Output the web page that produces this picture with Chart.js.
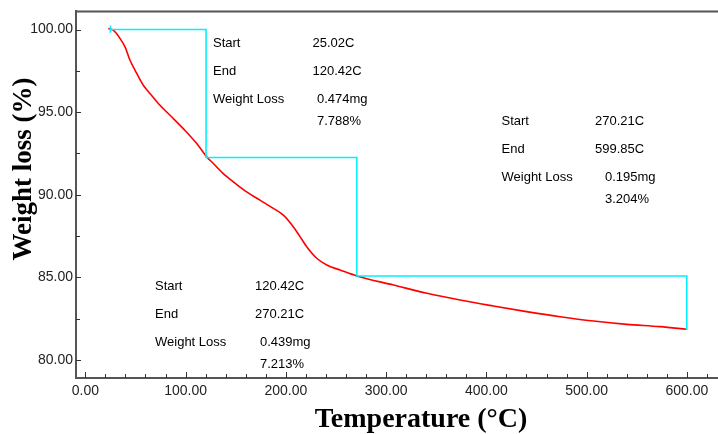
<!DOCTYPE html>
<html>
<head>
<meta charset="utf-8">
<script src="https://cdn.jsdelivr.net/npm/chart.js@4/dist/chart.umd.min.js"></script>
<style>
  html, body { margin: 0; padding: 0; background: #fff; }
  #wrap { width: 718px; height: 434px; }
</style>
</head>
<body>
<div id="wrap"><canvas id="tga" width="718" height="434"></canvas></div>
<script>
// TGA curve (temperature in C, weight in %)
const temps = [22.9, 27.9, 34.6, 39.6, 44.6, 51.3, 57.8, 64.5, 72.8, 84.5, 97.7, 111.1, 121.1, 127.7, 137.6, 147.6, 160.9, 174.2, 187.5, 197.5, 207.4, 214.1, 220.8, 230.8, 240.8, 254.0, 270.7, 307.4, 340.7, 373.8, 406.9, 440, 473.6, 506.8, 540, 573.4, 599.8];
const weights = [100.06, 99.96, 99.46, 98.95, 98.14, 97.34, 96.63, 96.13, 95.52, 94.81, 94.0, 93.1, 92.29, 91.89, 91.28, 90.78, 90.17, 89.67, 89.17, 88.76, 88.06, 87.46, 86.85, 86.15, 85.74, 85.44, 85.08, 84.53, 84.03, 83.62, 83.26, 82.92, 82.61, 82.35, 82.15, 82.01, 81.85];

// step marker (cyan)
const stepTemps = [25.02, 25.02, 25.02, 120.42, 120.42, 270.8, 270.8, 599.85, 599.85];
const stepWeights = [99.8, 100.25, 100, 100, 92.25, 92.25, 85.08, 85.08, 81.81];

// axis ticks
const xMajor = [0, 100, 200, 300, 400, 500, 600];
const yMajor = [80, 85, 90, 95, 100];

// annotations
const rowNames = ['Start', 'End', 'Weight Loss'];
const stage1 = ['25.02C', '120.42C', '0.474mg', '7.788%'];
const stage2 = ['120.42C', '270.21C', '0.439mg', '7.213%'];
const stage3 = ['270.21C', '599.85C', '0.195mg', '3.204%'];

const tickFont = '"Liberation Sans", Arial, sans-serif';

function toPoints(xs, ys) {
  return xs.map((x, i) => ({ x: x, y: ys[i] }));
}

// draws frame top, inward tick marks, annotations, axis titles
const decorPlugin = {
  id: 'decor',
  afterDraw(chart) {
    const ctx = chart.ctx;
    const area = chart.chartArea;
    const xs = chart.scales.x;
    const ys = chart.scales.y;
    ctx.save();

    // top frame line
    ctx.strokeStyle = '#555';
    ctx.lineWidth = 2;
    ctx.beginPath();
    ctx.moveTo(area.left - 1, area.top);
    ctx.lineTo(area.right, area.top);
    ctx.stroke();

    // inward ticks
    ctx.lineWidth = 1;
    ctx.strokeStyle = '#333';
    ctx.beginPath();
    for (let v = 0; v <= 620; v += 20) {
      const px = Math.round(xs.getPixelForValue(v)) + 0.5;
      const len = v % 100 === 0 ? 6 : 4;
      ctx.moveTo(px, area.bottom);
      ctx.lineTo(px, area.bottom - len);
    }
    for (let v = 80; v <= 100; v += 2.5) {
      const py = Math.round(ys.getPixelForValue(v)) + 0.5;
      const len = v % 5 === 0 ? 5 : 4;
      ctx.moveTo(area.left, py);
      ctx.lineTo(area.left + len, py);
    }
    ctx.stroke();

    // annotation blocks
    ctx.fillStyle = '#000';
    ctx.font = '13px "Liberation Sans", Arial, sans-serif';
    ctx.textBaseline = 'middle';
    ctx.textAlign = 'left';
    function block(x0, x1, x2, y0, vals) {
      const rows = [y0, y0 + 28.2, y0 + 55.9];
      rowNames.forEach((n, i) => ctx.fillText(n, x0, rows[i]));
      ctx.fillText(vals[0], x1, rows[0]);
      ctx.fillText(vals[1], x1, rows[1]);
      ctx.fillText(vals[2], x2, rows[2]);
      ctx.fillText(vals[3], x2, rows[2] + 22.3);
    }
    block(213, 312.5, 317, 43.5, stage1);
    block(155, 255, 260, 286.5, stage2);
    block(501.5, 595, 605, 121.5, stage3);

    // axis titles
    ctx.fillStyle = '#000';
    ctx.font = 'bold 28px "Liberation Serif", "Times New Roman", serif';
    ctx.textAlign = 'center';
    ctx.textBaseline = 'alphabetic';
    ctx.fillText('Temperature (°C)', 421, 427);

    ctx.translate(31, 169);
    ctx.rotate(-Math.PI / 2);
    ctx.font = 'bold 27px "Liberation Serif", "Times New Roman", serif';
    ctx.fillText('Weight loss (%)', 0, 0);
    ctx.restore();
  }
};

new Chart(document.getElementById('tga'), {
  type: 'line',
  data: {
    datasets: [
      {
        label: 'step',
        data: toPoints(stepTemps, stepWeights),
        borderColor: '#00f0ff',
        borderWidth: 1.6,
        pointRadius: 0,
        tension: 0,
        order: 0
      },
      {
        label: 'weight',
        data: toPoints(temps, weights),
        borderColor: '#ff0000',
        borderWidth: 1.6,
        pointRadius: 0,
        cubicInterpolationMode: 'monotone',
        order: 1
      }
    ]
  },
  options: {
    responsive: false,
    animation: false,
    layout: { padding: { top: 11, right: 0, left: 0, bottom: 0 } },
    plugins: {
      legend: { display: false },
      tooltip: { enabled: false }
    },
    scales: {
      x: {
        type: 'linear',
        min: -9.3,
        max: 631,
        afterBuildTicks: (scale) => { scale.ticks = xMajor.map(v => ({ value: v })); },
        afterFit: (scale) => { scale.height = 56; },
        grid: { display: false, drawTicks: false },
        border: { display: true, color: '#555', width: 2 },
        ticks: {
          padding: 5,
          color: '#222',
          maxRotation: 0,
          autoSkip: false,
          font: { family: tickFont, size: 14 },
          callback: (v) => Number(v).toFixed(2)
        }
      },
      y: {
        min: 78.9,
        max: 101.1,
        afterBuildTicks: (scale) => { scale.ticks = yMajor.map(v => ({ value: v })); },
        afterFit: (scale) => { scale.width = 76; },
        grid: { display: false, drawTicks: false },
        border: { display: true, color: '#555', width: 2 },
        ticks: {
          padding: 3,
          color: '#222',
          autoSkip: false,
          font: { family: tickFont, size: 14 },
          callback: (v) => Number(v).toFixed(2)
        }
      }
    }
  },
  plugins: [decorPlugin]
});
</script>
</body>
</html>
